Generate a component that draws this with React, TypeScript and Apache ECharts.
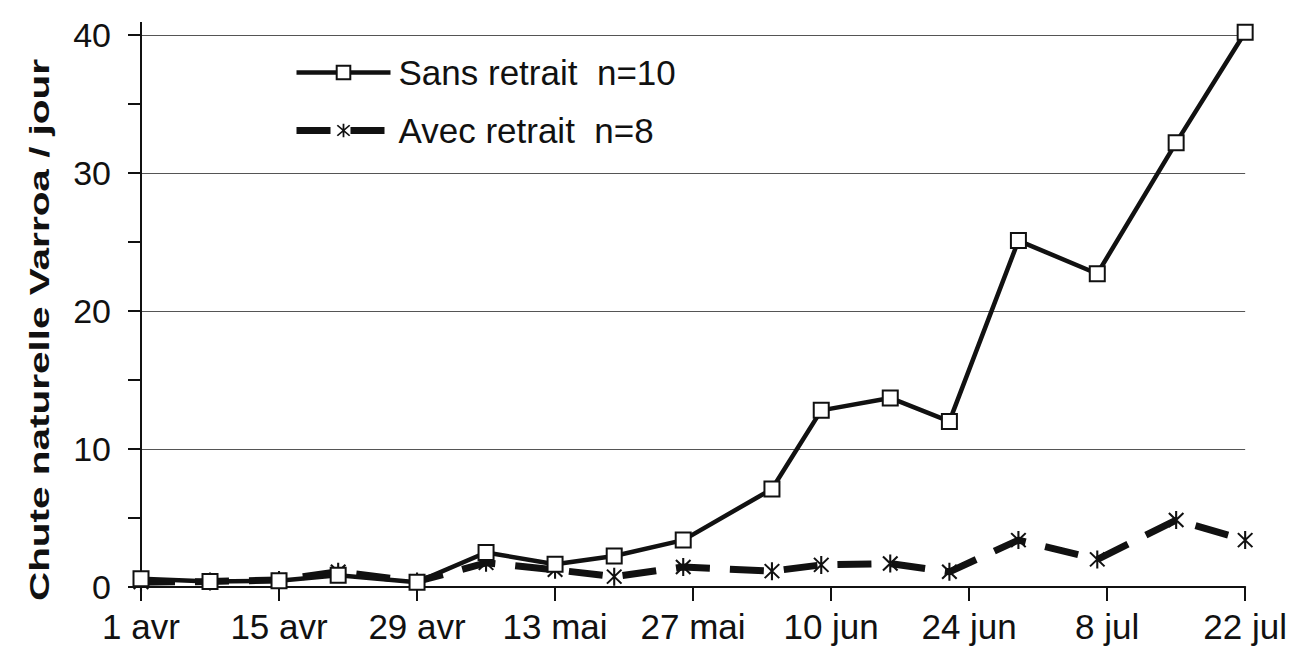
import React, { useEffect, useRef } from "react";
import * as echarts from "echarts";

// Days since 1 April for each observation
const dayOffsets = [0, 7, 14, 20, 28, 35, 42, 48, 55, 64, 69, 76, 82, 89, 97, 105, 112];
const sansRetrait = [0.6, 0.4, 0.45, 0.85, 0.35, 2.5, 1.65, 2.25, 3.4, 7.1, 12.8, 13.7, 12.0, 25.1, 22.7, 32.2, 40.2];
const avecRetrait = [0.35, 0.4, 0.5, 1.1, 0.4, 1.75, 1.25, 0.75, 1.45, 1.15, 1.6, 1.7, 1.1, 3.4, 2.0, 4.85, 3.4];
const xTickLabels = ["1 avr", "15 avr", "29 avr", "13 mai", "27 mai", "10 jun", "24 jun", "8 jul", "22 jul"];
const seriesNames = ["Sans retrait  n=10", "Avec retrait  n=8"];
const yAxisTitle = "Chute naturelle Varroa / jour";

const ASTERISK =
  "path://M-1,-9L1,-9L1,9L-1,9Z M-6.3,-7.7L7.7,6.3L6.3,7.7L-7.7,-6.3Z M6.3,-7.7L7.7,-6.3L-6.3,7.7L-7.7,6.3Z";

const FONT = "'Liberation Sans', Arial, sans-serif";
const DASH = [34, 20];

export default function App() {
  const ref = useRef<HTMLDivElement>(null);
  useEffect(() => {
    if (!ref.current) return;
    const chart = echarts.init(ref.current, null, { renderer: "svg" });
    chart.setOption({
      animation: false,
      backgroundColor: "#ffffff",
      textStyle: { fontFamily: FONT },
      grid: { left: 141, right: 43, top: 35, bottom: 63, containLabel: false },
      legend: {
        orient: "vertical",
        left: 293,
        top: 55,
        padding: 0,
        itemWidth: 94,
        itemHeight: 17,
        itemGap: 23,
        textStyle: { fontSize: 35, color: "#111", fontFamily: FONT, padding: [0, 0, 0, 3] },
        data: [
          { name: seriesNames[0], lineStyle: { width: 4.5, color: "#111" } },
          { name: seriesNames[1], lineStyle: { width: 7, color: "#111", type: DASH } },
        ],
      },
      xAxis: {
        type: "value",
        min: 0,
        max: 112,
        interval: 14,
        axisLine: { lineStyle: { color: "#111", width: 2 } },
        axisTick: { show: true, inside: false, length: 14, lineStyle: { color: "#111", width: 2 } },
        splitLine: { show: false },
        axisLabel: {
          fontSize: 35,
          color: "#111",
          margin: 22,
          fontFamily: FONT,
          formatter: (v: number) => xTickLabels[Math.round(v / 14)] ?? "",
        },
      },
      yAxis: {
        type: "value",
        min: 0,
        max: 40,
        interval: 10,
        axisLine: { show: true, lineStyle: { color: "#111", width: 2 } },
        axisTick: { show: true, inside: false, length: 13, lineStyle: { color: "#111", width: 2 } },
        minorTick: { show: true, splitNumber: 2, length: 13, lineStyle: { color: "#111", width: 2 } },
        splitLine: { show: true, lineStyle: { color: "#555", width: 1 } },
        axisLabel: { fontSize: 34, color: "#111", margin: 30, fontFamily: FONT, verticalAlign: "middle", padding: [0, 0, 6, 0] },
      },
      graphic: [
        {
          type: "line",
          shape: { x1: 141, y1: 22, x2: 141, y2: 35 },
          style: { stroke: "#111", lineWidth: 2 },
        },
        {
          type: "text",
          x: 40,
          y: 330,
          rotation: Math.PI / 2,
          scaleX: 1.5,
          style: {
            text: yAxisTitle,
            font: "bold 27px 'Liberation Sans', Arial, sans-serif",
            fill: "#111",
            textAlign: "center",
            textVerticalAlign: "middle",
          },
        },
      ],
      series: [
        {
          name: seriesNames[0],
          type: "line",
          clip: false,
          data: dayOffsets.map((d, i) => [d, sansRetrait[i]]),
          symbol: "rect",
          symbolSize: 15,
          lineStyle: { color: "#111", width: 4.5 },
          itemStyle: { color: "#ffffff", borderColor: "#111", borderWidth: 2 },
          z: 3,
        },
        {
          name: seriesNames[1],
          type: "line",
          clip: false,
          data: dayOffsets.map((d, i) => [d, avecRetrait[i]]),
          symbol: ASTERISK,
          symbolSize: [16, 18],
          lineStyle: { color: "#111", width: 7, type: DASH },
          itemStyle: { color: "#111", borderWidth: 0 },
          z: 2,
        },
      ],
    });
    return () => chart.dispose();
  }, []);
  return (
    <div
      ref={ref}
      style={{ position: "fixed", left: 0, top: 0, width: 1290, height: 650, background: "#fff" }}
    />
  );
}
